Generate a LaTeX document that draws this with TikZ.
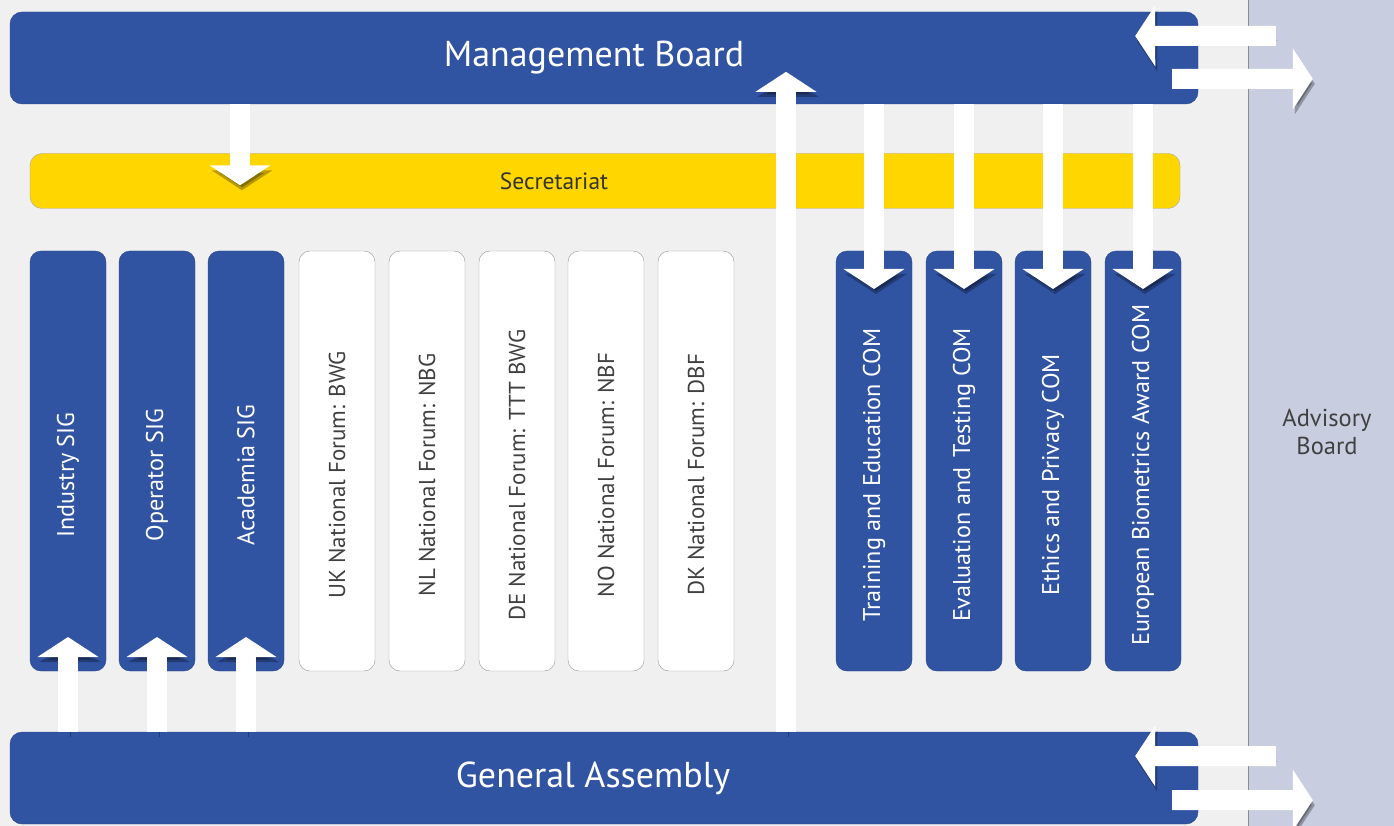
\documentclass[tikz,border=0pt]{standalone}
\usepackage{fontspec}
\setmainfont{PT Sans}
\usetikzlibrary{arrows.meta,calc}

\definecolor{boardblue}{RGB}{48,83,162}
\definecolor{secyellow}{RGB}{255,214,0}
\definecolor{paneltint}{RGB}{200,206,224}
\definecolor{pagegray}{RGB}{240,240,240}

\tikzset{
  board/.style={fill=boardblue, draw=boardblue!85!black, rounded corners=12pt,
    minimum width=1188pt, minimum height=92pt, text=white,
    font=\fontsize{36}{40}\selectfont},
  column/.style={rotate=90, rounded corners=11pt, minimum width=420pt,
    minimum height=76pt, inner sep=0pt, font=\fontsize{24.2}{28}\selectfont,
    execute at end node={\hspace*{28pt}}},
  sigbox/.style={column, fill=boardblue, draw=boardblue!85!black, text=white},
  forumbox/.style={column, fill=white, draw=black!40, text=black!75,
    font=\fontsize{23}{28}\selectfont},
  blockarrow/.style={draw=white, line width=20pt,
    -{Triangle[width=60pt,length=20pt]},
    preaction={draw=black, opacity=0.28, transform canvas={shift={(2pt,-5pt)}}}},
}

\begin{document}
\begin{tikzpicture}[x=1pt,y=1pt,yscale=-1]
\useasboundingbox (0,0) rectangle (1394,826);

% background and advisory panel
\fill[pagegray] (0,0) rectangle (1248,826);
\node[fill=paneltint, minimum width=146pt, minimum height=826pt, inner sep=0pt,
  label={[align=center, text=black!75, font=\fontsize{24.5}{28}\selectfont,
  xshift=6pt, yshift=-19pt]center:Advisory\\Board}] (adv) at (1321,413) {};
\draw[black!45] (adv.north west) -- (adv.south west);

% boards
\node[board] (mb) at (604,58) {\hspace*{-20pt}Management Board};
\node[board] (ga) at (604,778) {\hspace*{-22pt}General Assembly};
\node[fill=secyellow, draw=black!35, rounded corners=12pt, minimum width=1150pt,
  minimum height=55pt,
  label={[xshift=-51pt, text=black!80, font=\fontsize{23.5}{26}\selectfont]center:Secretariat}]
  (sec) at (605,181) {};

% special interest groups
\node[sigbox] (sig1) at (68,461) {Industry SIG};
\node[sigbox] (sig2) at (157,461) {Operator SIG};
\node[sigbox] (sig3) at (246,461) {Academia SIG};

% national forums
\node[forumbox] (nf1) at (337,461) {UK National Forum: BWG};
\node[forumbox] (nf2) at (427,461) {NL National Forum: NBG};
\node[forumbox] (nf3) at (517,461) {DE National Forum: TTT BWG};
\node[forumbox] (nf4) at (606,461) {NO National Forum: NBF};
\node[forumbox] (nf5) at (696,461) {DK National Forum: DBF};

% committees
\node[sigbox] (com1) at (874,461) {Training and Education COM};
\node[sigbox] (com2) at (964,461) {Evaluation and\, Testing COM};
\node[sigbox] (com3) at (1053,461) {Ethics and Privacy COM};
\node[sigbox] (com4) at (1143,461) {European Biometrics Award COM};

% arrows
\draw[blockarrow] (240,0 |- mb.south) -- ($(240,0 |- sec.north)+(0,32)$);
\foreach \c in {com1,com2,com3,com4}
  \draw[blockarrow] (\c |- mb.south) -- ($(\c.center)+(0,-172)$);
\foreach \s in {sig1,sig2,sig3}
  \draw[blockarrow] (\s |- ga.north) -- ($(\s.center)+(0,176)$);
\draw[blockarrow] (786,0 |- ga.north) -- ($(786,0 |- mb.north)+(0,60)$);

% advisory board links
\draw[blockarrow] ($(adv.north west)+(28,36)$) -- ($(mb.east)+(-63,-22)$);
\draw[blockarrow] ($(mb.east)+(-26,21)$) -- ($(adv.north west)+(65,79)$);
\draw[blockarrow] ($(adv.south west)+(28,-70)$) -- ($(ga.east)+(-63,-22)$);
\draw[blockarrow] ($(ga.east)+(-26,22)$) -- ($(adv.south west)+(65,-26)$);
\end{tikzpicture}
\end{document}
